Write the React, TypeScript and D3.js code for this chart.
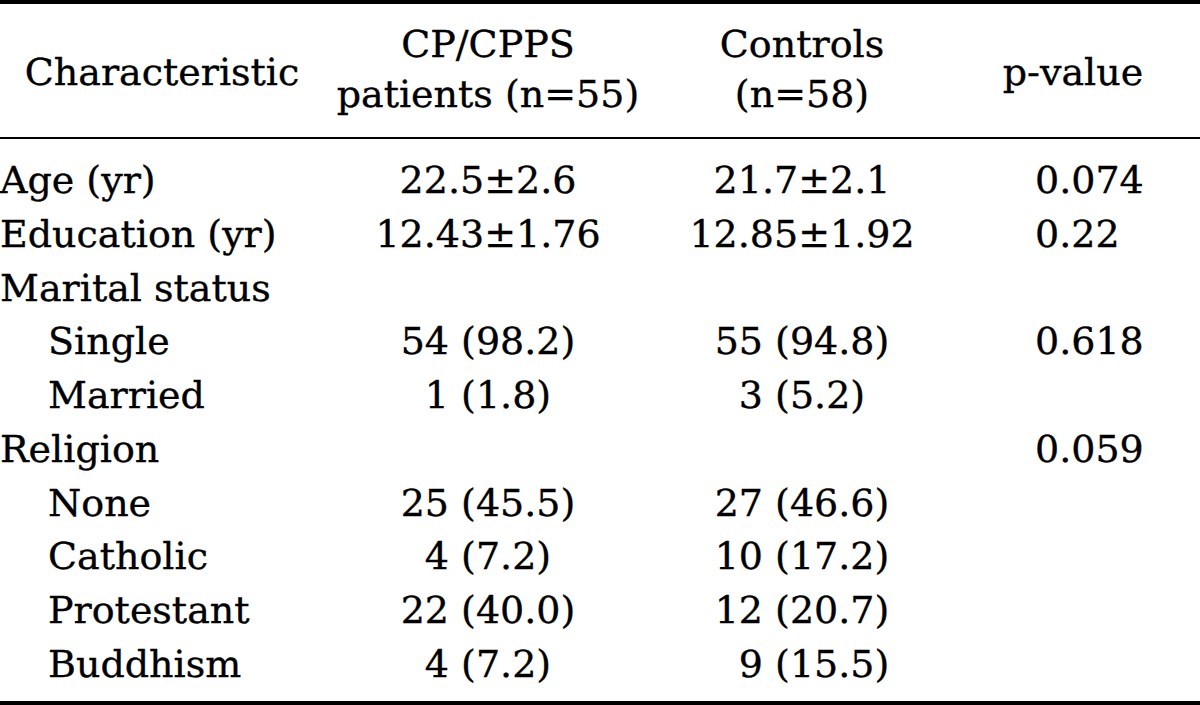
import React from "react";
import * as d3 from "d3";

const characteristics = ["Age (yr)", "Education (yr)", "Marital status", "Single", "Married", "Religion", "None", "Catholic", "Protestant", "Buddhism"];
const indented = [false, false, false, true, true, false, true, true, true, true];
const patients = ["22.5±2.6", "12.43±1.76", "", "54 (98.2)", "1 (1.8)", "", "25 (45.5)", "4 (7.2)", "22 (40.0)", "4 (7.2)"];
const controls = ["21.7±2.1", "12.85±1.92", "", "55 (94.8)", "3 (5.2)", "", "27 (46.6)", "10 (17.2)", "12 (20.7)", "\u20079 (15.5)"];
const pValues = ["0.074", "0.22", "", "0.618", "", "0.059", "", "", "", ""];
const headerCharacteristic = ["Characteristic"];
const headerPatients = ["CP/CPPS", "patients (n=55)"];
const headerControls = ["Controls", "(n=58)"];
const headerP = ["p-value"];

const W = 1200;
const H = 705;
const FONT = "'DejaVu Serif', serif";
const FS = 38;

export default function App() {
  const y = d3.scaleLinear().domain([0, characteristics.length - 1]).range([193, 677]);
  const col = { label: 0, indent: 48, charHead: 162, patients: 488, controls: 802, pHead: 1073, pVal: 1035 };
  const textStyle = { fontFamily: FONT, fontSize: FS };
  return (
    <svg width={W} height={H} style={{ position: "absolute", left: 0, top: 0, background: "#fff" }}>
      <rect x={0} y={0} width={W} height={H} fill="#fff" />
      <rect x={0} y={0} width={W} height={4} fill="#000" />
      <rect x={0} y={137} width={W} height={2} fill="#000" />
      <rect x={0} y={701} width={W} height={4} fill="#000" />
      <g fill="#000" stroke="#000" strokeWidth={0.35} style={textStyle}>
        <text x={col.charHead} y={85} textAnchor="middle">{headerCharacteristic[0]}</text>
        {headerPatients.map((t, i) => (
          <text key={"hp" + i} x={col.patients} y={57 + i * 50} textAnchor="middle">{t}</text>
        ))}
        {headerControls.map((t, i) => (
          <text key={"hc" + i} x={col.controls} y={57 + i * 50} textAnchor="middle">{t}</text>
        ))}
        <text x={col.pHead} y={85} textAnchor="middle">{headerP[0]}</text>
        {characteristics.map((c, i) => (
          <text key={"c" + i} x={indented[i] ? col.indent : col.label} y={y(i)}>{c}</text>
        ))}
        {patients.map((t, i) => t ? (
          <text key={"p" + i} x={col.patients} y={y(i)} textAnchor="middle">{t}</text>
        ) : null)}
        {controls.map((t, i) => t ? (
          <text key={"k" + i} x={col.controls} y={y(i)} textAnchor="middle">{t}</text>
        ) : null)}
        {pValues.map((t, i) => t ? (
          <text key={"v" + i} x={col.pVal} y={y(i)}>{t}</text>
        ) : null)}
      </g>
    </svg>
  );
}
